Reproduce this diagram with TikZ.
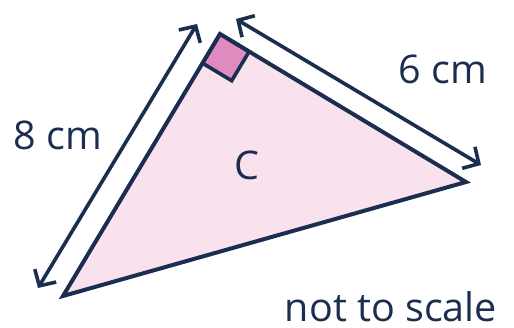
\documentclass[tikz,border=0pt]{standalone}
\usepackage{fontspec}
\setmainfont{Open Sans}
\usetikzlibrary{arrows.meta,calc}
\definecolor{navy}{HTML}{1C2E50}
\definecolor{lightpink}{HTML}{FAE1EE}
\definecolor{midpink}{HTML}{DF8BBF}
\tikzset{
  edge/.style={draw=navy,line width=4pt,line join=miter},
  dimarrow/.style={draw=navy,line width=3.6pt,{Straight Barb[length=12pt,width=25pt,line width=3.6pt]}-{Straight Barb[length=12pt,width=25pt,line width=3.6pt]}},
  lbl/.style={text=navy,font=\fontsize{39.5}{41}\selectfont,anchor=base,inner sep=0pt}
}
\begin{document}
\begin{tikzpicture}[x=1pt,y=-1pt]
\useasboundingbox (0,0) rectangle (514,327);
\coordinate (A) at (220,34);
\coordinate (B) at (63,296);
\coordinate (C) at (466,182);
\coordinate (L1) at (38,288);
\coordinate (L2) at (197,24);
\coordinate (R1) at (236,19);
\coordinate (R2) at (481,165);
\fill[lightpink] (A) -- (B) -- (C) -- cycle;
\coordinate (S1) at ($(A)!34pt!(B)$);
\coordinate (S2) at ($(A)!34pt!(C)$);
\coordinate (S3) at ($(S1)+(S2)-(A)$);
\filldraw[midpink,draw=navy,line width=3.6pt] (A) -- (S1) -- (S3) -- (S2) -- cycle;
\draw[edge] (A) -- (B) -- (C) -- cycle;
\draw[dimarrow] (L1) -- (L2);
\draw[dimarrow] (R1) -- (R2);
\node[lbl] (l8) at (58,149) {8 cm};
\node[lbl] (l6) at (443,83) {6 cm};
\node[lbl] (lC) at (247,179) {C};
\node[lbl] (ns) at (391,321) {not to scale};
\end{tikzpicture}
\end{document}
